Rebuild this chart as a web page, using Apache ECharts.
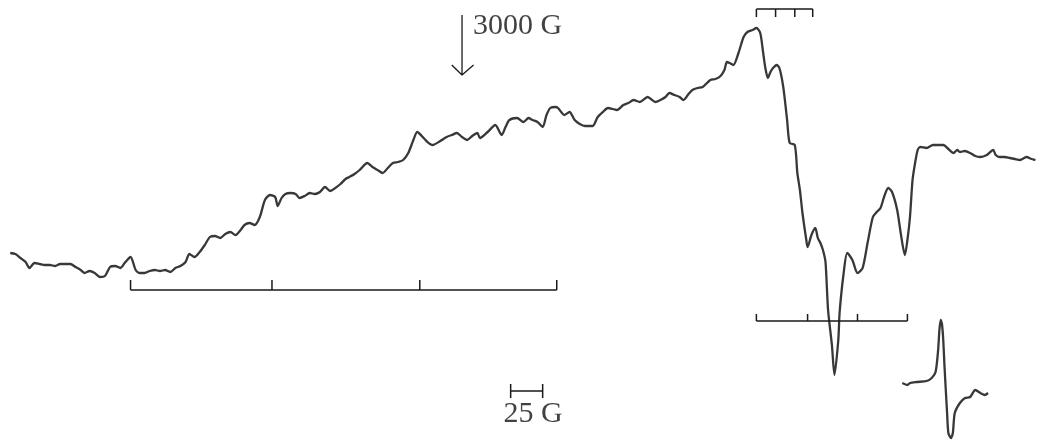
<!DOCTYPE html>
<html>
<head>
<meta charset="utf-8">
<script src="https://cdn.jsdelivr.net/npm/echarts@6/dist/echarts.min.js"></script>
<style>
html,body{margin:0;padding:0;background:#fff;}
#chart{width:1045px;height:446px;}
</style>
</head>
<body>
<div id="chart"></div>
<script>
// Magnetic field (G) and derivative EPR signal (a.u.)
var fieldG = [2647,2651,2655,2659,2662,2666,2670,2674,2678,2682,2686,2690,2694,2698,2702,2705,2709,2713,2717,2721,2725,2729,2733,2737,2741,2745,2748,2752,2756,2760,2764,2768,2772,2776,2780,2784,2787,2791,2795,2799,2803,2807,2811,2815,2819,2823,2827,2830,2834,2838,2842,2846,2850,2854,2856,2859,2862,2866,2870,2873,2877,2881,2885,2889,2893,2897,2901,2905,2909,2912,2916,2920,2926,2930,2934,2938,2942,2946,2950,2954,2958,2962,2965,2970,2973,2977,2983,2988,2992,2996,3000,3004,3008,3012,3014,3020,3026,3031,3034,3037,3043,3048,3052,3055,3059,3063,3066,3069,3073,3075,3080,3084,3088,3092,3096,3102,3106,3110,3114,3118,3121,3126,3130,3134,3139,3145,3151,3155,3159,3162,3166,3170,3173,3177,3180,3184,3188,3194,3198,3202,3205,3207,3209,3212,3216,3220,3223,3227,3230,3233,3235,3237,3239,3241,3243,3246,3248,3251,3254,3256,3260,3262,3264,3266,3269,3270,3273,3276,3278,3280,3282,3284,3286,3289,3291,3294,3295,3298,3301,3305,3309,3313,3317,3321,3324,3327,3330,3333,3336,3340,3343,3346,3348,3350,3352,3354,3356,3358,3363,3368,3376,3380,3384,3387,3389,3393,3397,3401,3405,3410,3415,3417,3420,3424,3428,3432,3436,3441,3445,3448];
var signal = [147,146,142,138,132,137,136,135,135,134,136,136,136,133,130,127,129,127,123,124,133,134,132,138,143,130,127,127,129,130,129,130,128,132,134,138,146,143,148,155,163,164,162,166,168,165,170,175,177,175,183,200,205,203,194,202,206,207,206,202,204,207,206,208,213,209,212,216,221,223,226,230,237,233,230,227,232,237,238,240,247,260,268,262,258,255,259,263,265,267,263,260,264,267,262,268,275,265,273,280,282,278,282,280,278,273,285,292,293,292,285,288,280,276,274,274,283,288,292,291,290,295,297,300,298,303,298,300,303,307,305,303,300,306,310,312,313,320,321,324,330,338,337,335,347,363,368,370,372,367,350,332,322,328,332,335,332,313,280,257,255,227,210,187,160,153,165,172,162,157,150,138,90,55,25,60,87,125,147,140,127,132,158,183,188,192,204,212,208,190,165,145,160,183,220,237,250,253,252,255,255,251,247,250,248,249,247,244,243,245,250,245,243,243,242,241,240,243,241,240];

// Inset reference signal
var insetField = [3344,3348,3350,3355,3363,3367,3370,3372,3373,3374,3375,3376,3377,3379,3380,3382,3383.5,3385,3389,3393,3397,3401,3405,3408.5,3411];
var insetSignal = [17,15,17,18,19,22,28,50,70,80,76,60,33,-13,-33,-38,-33,-13,-3,2,3,10,7,5,7];

// Stick diagrams (field positions of the lines, G)
var stickWide = [2741,2851.5,2967,3074];
var stickTop = [3230,3245,3260,3274];
var stickLow = [3230,3270,3309,3348];
var scaleBar = [3038,3063];     // 25 G
var markerField = 3000;          // arrow "3000 G"
var labels = {marker: '3000 G', scale: '25 G'};

function pairs(xs, ys){ return xs.map(function(x,i){ return [x, ys[i]]; }); }

// stick diagram: baseline at level `base`, ticks to level `tip`
function stick(xs, base, tip){
  var d = [[xs[0], base],[xs[xs.length-1], base], null];
  xs.forEach(function(x){ d.push([x, base],[x, tip], null); });
  return d;
}

var black = '#1a1a1a';
var traceColor = '#383838';
var font = '"Liberation Serif", "Times New Roman", serif';

var chart = echarts.init(document.getElementById('chart'), null, {renderer:'canvas'});
chart.setOption({
  animation: false,
  backgroundColor: '#ffffff',
  grid: {left: 0, right: 0, top: 0, bottom: 0, containLabel: false},
  xAxis: {type: 'value', min: 2639, max: 3455.5, show: false},
  yAxis: {type: 'value', min: -46, max: 400, show: false},
  series: [
    {name:'spectrum', type:'line', data: pairs(fieldG, signal), symbol:'none', smooth:0.25,
     lineStyle:{color: traceColor, width: 2.3}},
    {name:'inset', type:'line', data: pairs(insetField, insetSignal), symbol:'none', smooth:0.25,
     lineStyle:{color: traceColor, width: 2.3}},
    {name:'sticksWide', type:'line', data: stick(stickWide, 110, 120), symbol:'none', connectNulls:false,
     lineStyle:{color: black, width: 1.5}},
    {name:'sticksTop', type:'line', data: stick(stickTop, 391, 383), symbol:'none', connectNulls:false,
     lineStyle:{color: black, width: 1.5}},
    {name:'sticksLow', type:'line', data: stick(stickLow, 79, 86), symbol:'none', connectNulls:false,
     lineStyle:{color: black, width: 1.5}},
    {name:'scaleBar', type:'line',
     data: [[scaleBar[0], 9],[scaleBar[1], 9], null, [scaleBar[0], 16],[scaleBar[0], 2], null, [scaleBar[1], 16],[scaleBar[1], 2]],
     symbol:'none', connectNulls:false, lineStyle:{color: black, width: 1.5}},
    {name:'arrow', type:'line',
     data: [[markerField, 385],[markerField, 325], null, [markerField-8, 335],[markerField, 325],[markerField+9, 335]],
     symbol:'none', connectNulls:false, lineStyle:{color: black, width: 1.3}},
    {name:'labels', type:'scatter', symbolSize: 0, silent: true,
     data: [
       {value:[markerField+8.5, 374], label:{show:true, position:'right', distance:0, formatter: labels.marker}},
       {value:[scaleBar[1]-7.5, -14], label:{show:true, position:'inside', formatter: labels.scale}}
     ],
     label:{color:'#111', fontFamily: font, fontSize: 30}}
  ]
});
</script>
</body>
</html>
